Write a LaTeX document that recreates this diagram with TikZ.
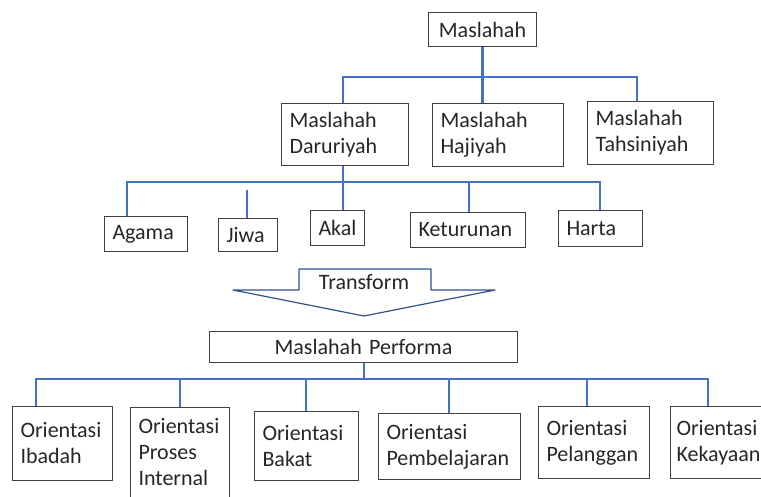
\documentclass[tikz,border=0pt]{standalone}
\usepackage{fontspec}
\setmainfont{Carlito}
\usepackage{tikz}

\definecolor{biru}{RGB}{68,114,196}
\definecolor{birutua}{RGB}{47,82,143}

\begin{document}
\begin{tikzpicture}[x=1pt,y=-1pt,
    kotak/.style={draw=black!75,line width=1pt,anchor=north west,align=left,inner xsep=8pt,inner ysep=0pt,
        font=\fontsize{22}{26}\selectfont,text=black!85},
    garis/.style={draw=biru,line width=2.8pt}]
    \useasboundingbox (0,0) rectangle (761,496);

    % Ebene 1
    \node[kotak,align=center,text width=92,minimum height=34] (maslahah) at (428,12) {Maslahah};
    \node[kotak,text width=111,minimum height=62] (daruriyah) at (281,103) {Maslahah\\Daruriyah};
    \node[kotak,text width=115,minimum height=63] (hajiyah) at (432,103) {Maslahah\\Hajiyah};
    \node[kotak,text width=110,minimum height=63] (tahsiniyah) at (587,101) {Maslahah\\Tahsiniyah};

    % Ebene 2
    \node[kotak,text width=67,minimum height=35] (agama) at (104,216) {Agama};
    \node[kotak,text width=43,minimum height=33] (jiwa) at (218,218) {Jiwa};
    \node[kotak,text width=38,minimum height=35] (akal) at (310,210) {Akal};
    \node[kotak,text width=99,minimum height=35] (keturunan) at (410,212) {Keturunan};
    \node[kotak,text width=68,minimum height=36] (harta) at (558,210) {Harta};

    % Pfeil
    \draw[draw=birutua,line width=1.2pt,line join=round] (299,269) -- (431,269) -- (431,290) -- (495,290)
        -- (364,316) -- (233,290) -- (299,290) -- cycle;
    \node[font=\fontsize{22}{26}\selectfont,text=black!85] (transform) at (364,282) {Transform};

    % Ebene 3
    \node[kotak,align=center,text width=292,minimum height=31] (performa) at (209,331) {Maslahah Performa};
    \node[kotak,text width=84,minimum height=74] (ibadah) at (12,406) {Orientasi\\Ibadah};
    \node[kotak,text width=83,minimum height=90] (proses) at (130,407) {Orientasi\\Proses\\Internal};
    \node[kotak,text width=88,minimum height=69] (bakat) at (254,411) {Orientasi\\Bakat};
    \node[kotak,text width=126,minimum height=66] (pembelajaran) at (378,413) {Orientasi\\Pembelajaran};
    \node[kotak,text width=95,minimum height=72] (pelanggan) at (538,406) {Orientasi\\Pelanggan};
    \node[kotak,inner xsep=6pt,text width=92,minimum height=72] (kekayaan) at (670,406) {Orientasi\\Kekayaan};

    % Linien oben
    \draw[garis] (maslahah.south) -- (maslahah.south |- 0,77) -- (maslahah.south |- hajiyah.north);
    \draw[garis] (343,0 |- daruriyah.north) -- (343,77) -- (637,77) -- (637,0 |- tahsiniyah.north);

    % Linien Mitte
    \draw[garis] (daruriyah.south -| 343,0) -- (343,182);
    \draw[garis] (127,0 |- agama.north) -- (127,182) -- (600,182) -- (600,0 |- harta.north);
    \draw[garis] (247,190) -- (247,0 |- jiwa.north);
    \foreach \n/\x in {akal/343,keturunan/469}
        \draw[garis] (\x,182) -- (\x,0 |- \n.north);

    % Linien unten
    \draw[garis] (performa.south -| 364,0) -- (364,379);
    \draw[garis] (36,0 |- ibadah.north) -- (36,379) -- (708,379) -- (708,0 |- kekayaan.north);
    \foreach \n/\x in {proses/180,bakat/306,pembelajaran/449,pelanggan/587}
        \draw[garis] (\x,379) -- (\x,0 |- \n.north);
\end{tikzpicture}
\end{document}
